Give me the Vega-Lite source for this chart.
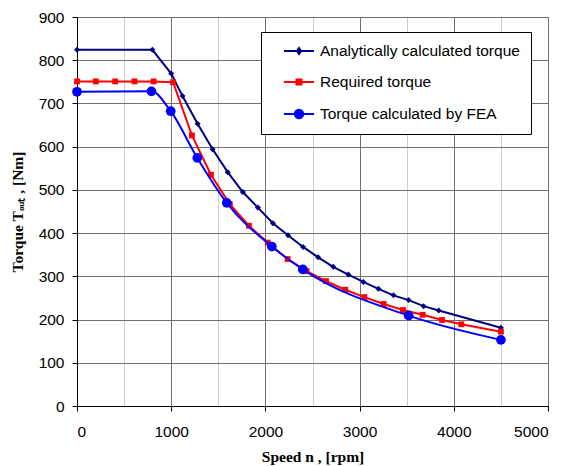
{
  "$schema": "https://vega.github.io/schema/vega-lite/v6.json",
  "width": 471,
  "height": 389,
  "autosize": {"type": "none"},
  "padding": {"left": 77, "top": 17, "right": 20, "bottom": 60},
  "background": "white",
  "config": {
    "view": {"stroke": "#808080", "strokeWidth": 1},
    "axis": {
      "labelFont": "Liberation Sans",
      "labelFontSize": 15.5,
      "labelColor": "#000000",
      "titleFont": "Liberation Serif",
      "titleFontSize": 15.5,
      "titleFontWeight": "bold",
      "titleColor": "#000000",
      "domainColor": "#000000",
      "tickColor": "#000000",
      "tickSize": 5,
      "gridColor": "#707070",
      "gridOpacity": 1
    }
  },
  "data": {
    "values": [
      {"series": "Analytically calculated torque", "rpm": 0, "torque": 824},
      {"series": "Analytically calculated torque", "rpm": 800, "torque": 824},
      {"series": "Analytically calculated torque", "rpm": 1000, "torque": 769},
      {"series": "Analytically calculated torque", "rpm": 1120, "torque": 717},
      {"series": "Analytically calculated torque", "rpm": 1280, "torque": 653},
      {"series": "Analytically calculated torque", "rpm": 1440, "torque": 594},
      {"series": "Analytically calculated torque", "rpm": 1600, "torque": 541},
      {"series": "Analytically calculated torque", "rpm": 1760, "torque": 495},
      {"series": "Analytically calculated torque", "rpm": 1920, "torque": 459},
      {"series": "Analytically calculated torque", "rpm": 2080, "torque": 423},
      {"series": "Analytically calculated torque", "rpm": 2240, "torque": 395},
      {"series": "Analytically calculated torque", "rpm": 2400, "torque": 368},
      {"series": "Analytically calculated torque", "rpm": 2560, "torque": 344},
      {"series": "Analytically calculated torque", "rpm": 2720, "torque": 322},
      {"series": "Analytically calculated torque", "rpm": 2880, "torque": 304},
      {"series": "Analytically calculated torque", "rpm": 3040, "torque": 287},
      {"series": "Analytically calculated torque", "rpm": 3200, "torque": 271},
      {"series": "Analytically calculated torque", "rpm": 3360, "torque": 256},
      {"series": "Analytically calculated torque", "rpm": 3520, "torque": 245},
      {"series": "Analytically calculated torque", "rpm": 3680, "torque": 231},
      {"series": "Analytically calculated torque", "rpm": 3840, "torque": 221},
      {"series": "Analytically calculated torque", "rpm": 4500, "torque": 181},
      {"series": "Required torque", "rpm": 0, "torque": 751},
      {"series": "Required torque", "rpm": 200, "torque": 751},
      {"series": "Required torque", "rpm": 405, "torque": 751},
      {"series": "Required torque", "rpm": 610, "torque": 751},
      {"series": "Required torque", "rpm": 813, "torque": 751},
      {"series": "Required torque", "rpm": 1020, "torque": 749},
      {"series": "Required torque", "rpm": 1220, "torque": 626},
      {"series": "Required torque", "rpm": 1422, "torque": 535},
      {"series": "Required torque", "rpm": 1622, "torque": 467},
      {"series": "Required torque", "rpm": 1825, "torque": 417},
      {"series": "Required torque", "rpm": 2025, "torque": 378},
      {"series": "Required torque", "rpm": 2236, "torque": 340},
      {"series": "Required torque", "rpm": 2437, "torque": 312},
      {"series": "Required torque", "rpm": 2643, "torque": 289},
      {"series": "Required torque", "rpm": 2848, "torque": 269},
      {"series": "Required torque", "rpm": 3050, "torque": 252},
      {"series": "Required torque", "rpm": 3255, "torque": 236},
      {"series": "Required torque", "rpm": 3460, "torque": 222},
      {"series": "Required torque", "rpm": 3669, "torque": 211},
      {"series": "Required torque", "rpm": 3875, "torque": 199},
      {"series": "Required torque", "rpm": 4080, "torque": 189},
      {"series": "Required torque", "rpm": 4500, "torque": 172},
      {"series": "Torque calculated by FEA", "rpm": 0, "torque": 727},
      {"series": "Torque calculated by FEA", "rpm": 790, "torque": 728},
      {"series": "Torque calculated by FEA", "rpm": 995, "torque": 682},
      {"series": "Torque calculated by FEA", "rpm": 1277, "torque": 574},
      {"series": "Torque calculated by FEA", "rpm": 1590, "torque": 470},
      {"series": "Torque calculated by FEA", "rpm": 2068, "torque": 369},
      {"series": "Torque calculated by FEA", "rpm": 2397, "torque": 316},
      {"series": "Torque calculated by FEA", "rpm": 3521, "torque": 209},
      {"series": "Torque calculated by FEA", "rpm": 4500, "torque": 153}
    ]
  },
  "encoding": {
    "x": {
      "field": "rpm",
      "type": "quantitative",
      "scale": {"domain": [0, 5000], "nice": false, "zero": false},
      "axis": {
        "values": [0, 500, 1000, 1500, 2000, 2500, 3000, 3500, 4000, 4500, 5000],
        "format": "d",
        "labelExpr": "datum.value % 1000 === 0 ? datum.label : ''",
        "gridColor": {"condition": {"test": "datum.value % 1000 === 0", "value": "#707070"}, "value": "#cccccc"},
        "tickOpacity": {"condition": {"test": "datum.value % 1000 === 0", "value": 1}, "value": 0},
        "title": "Speed n , [rpm]",
        "labelPadding": 13,
        "titlePadding": 10
      }
    },
    "y": {
      "field": "torque",
      "type": "quantitative",
      "scale": {"domain": [0, 900], "nice": false},
      "axis": {
        "values": [0, 100, 200, 300, 400, 500, 600, 700, 800, 900],
        "format": "d",
        "title": "Torque Tₒᵤₜ , [Nm]",
        "labelPadding": 8,
        "titlePadding": 13
      }
    },
    "color": {
      "field": "series",
      "type": "nominal",
      "scale": {
        "domain": ["Analytically calculated torque", "Required torque", "Torque calculated by FEA"],
        "range": ["#000080", "#ff0000", "#0000ff"]
      },
      "legend": {
        "title": null,
        "orient": "none",
        "legendX": 184,
        "legendY": 15,
        "direction": "vertical",
        "fillColor": "#ffffff",
        "strokeColor": "#000000",
        "padding": 11,
        "symbolSize": 196,
        "symbolOffset": 19,
        "labelOffset": 13,
        "rowPadding": 14,
        "labelFont": "Liberation Sans",
        "labelFontSize": 15.5,
        "labelColor": "#000000",
        "labelLimit": 400,
        "labelExpr": "datum.label + '  '",
        "symbolStrokeWidth": 2,
        "encoding": {
          "symbols": {
            "shape": {
              "condition": [
                {"test": "datum.value === 'Analytically calculated torque'", "value": "M-2.14,0H2.14M0,-0.43L0.3,0L0,0.43L-0.3,0Z"},
                {"test": "datum.value === 'Required torque'", "value": "M-2.14,0H2.14M-0.36,-0.36H0.36V0.36H-0.36Z"}
              ],
              "value": "M-2.14,0H2.14M-0.6,0A0.6,0.6,0,1,0,0.6,0A0.6,0.6,0,1,0,-0.6,0Z"
            },
            "fill": {
              "condition": [
                {"test": "datum.value === 'Analytically calculated torque'", "value": "#000080"},
                {"test": "datum.value === 'Required torque'", "value": "#ff0000"}
              ],
              "value": "#0000ff"
            },
            "stroke": {
              "condition": [
                {"test": "datum.value === 'Analytically calculated torque'", "value": "#000080"},
                {"test": "datum.value === 'Required torque'", "value": "#ff0000"}
              ],
              "value": "#0000ff"
            },
            "opacity": {"value": 1},
            "strokeWidth": {"value": 2},
            "size": {"value": 196}
          }
        }
      }
    }
  },
  "layer": [
    {
      "transform": [{"filter": "datum.series === 'Analytically calculated torque'"}],
      "mark": {"type": "line", "strokeWidth": 2, "interpolate": "linear"}
    },
    {
      "transform": [{"filter": "datum.series === 'Analytically calculated torque'"}],
      "mark": {"type": "point", "shape": "diamond", "filled": true, "size": 36, "opacity": 1}
    },
    {
      "transform": [{"filter": "datum.series === 'Required torque'"}],
      "mark": {"type": "line", "strokeWidth": 2, "interpolate": "linear"}
    },
    {
      "transform": [{"filter": "datum.series === 'Required torque'"}],
      "mark": {"type": "point", "shape": "square", "filled": true, "size": 34, "opacity": 1}
    },
    {
      "transform": [{"filter": "datum.series === 'Torque calculated by FEA'"}],
      "mark": {"type": "line", "strokeWidth": 2, "interpolate": "monotone"}
    },
    {
      "transform": [{"filter": "datum.series === 'Torque calculated by FEA'"}],
      "mark": {"type": "point", "shape": "circle", "filled": true, "size": 95, "opacity": 1}
    }
  ]
}
